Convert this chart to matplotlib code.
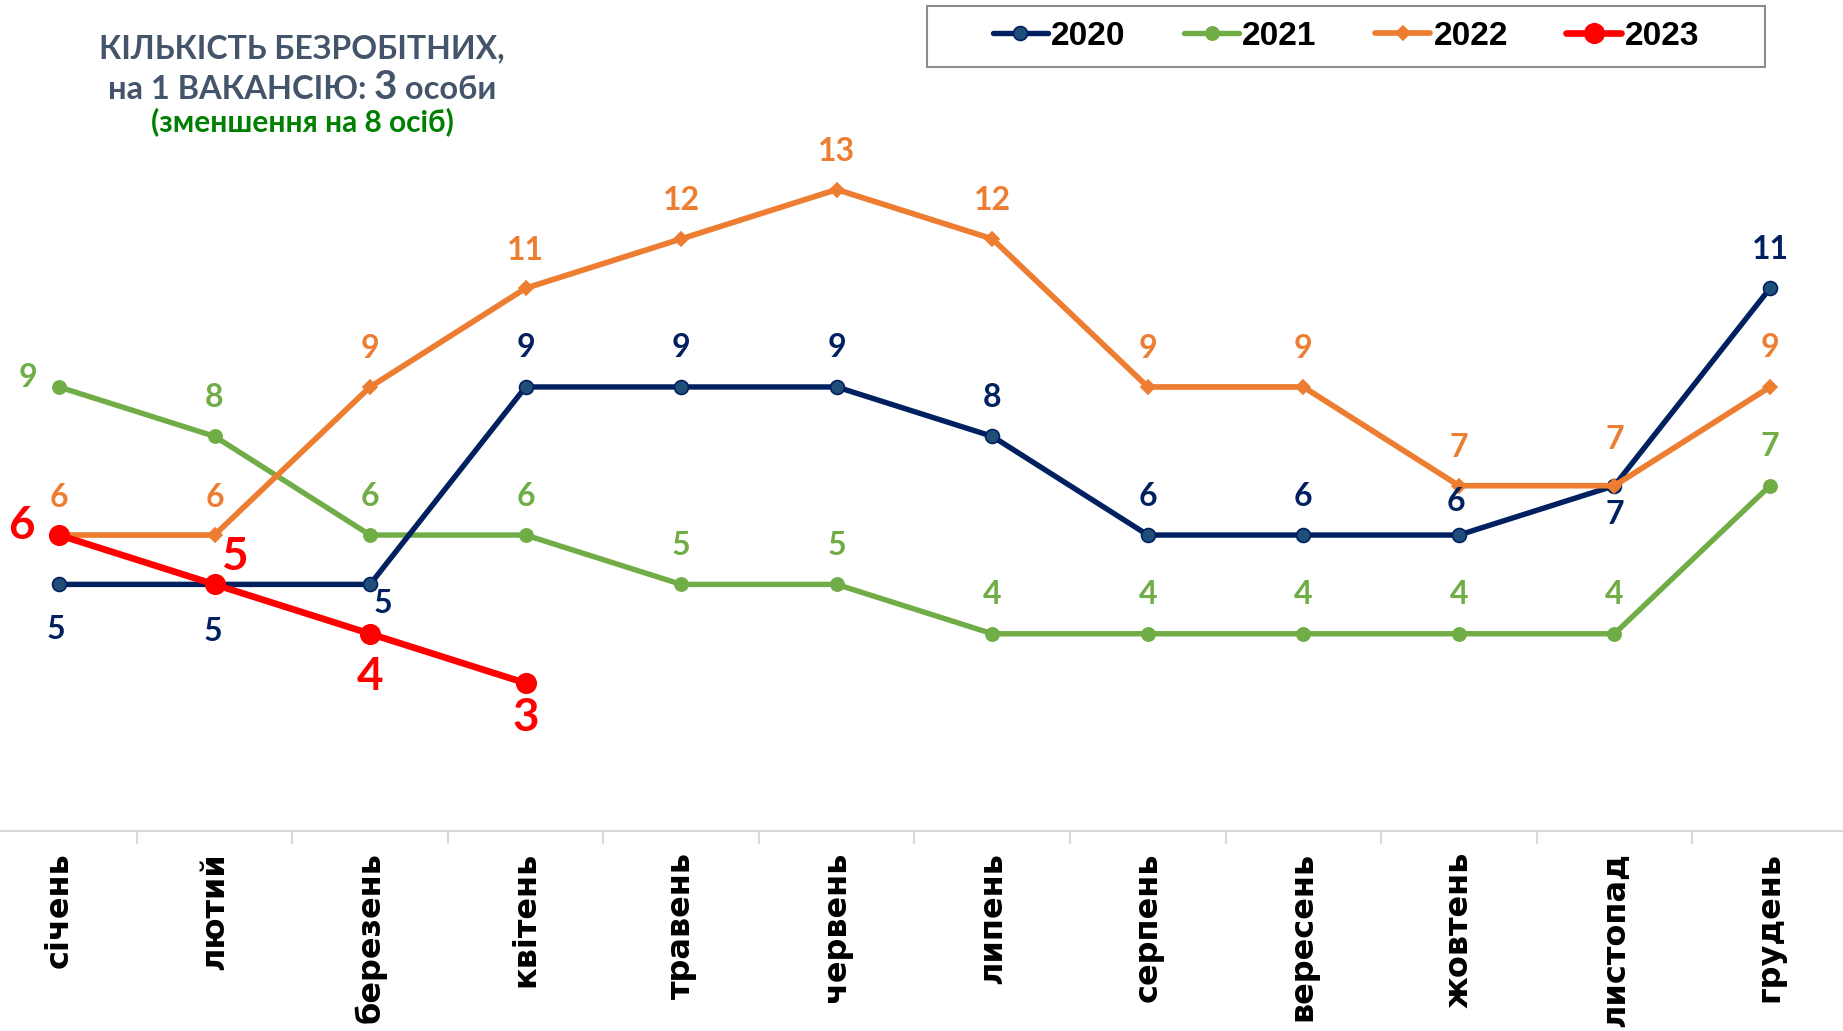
import matplotlib
matplotlib.use("Agg")
import matplotlib.pyplot as plt
from matplotlib.patches import Rectangle
from matplotlib.offsetbox import TextArea, HPacker, AnchoredOffsetbox

# Data
months = ["січень", "лютий", "березень", "квітень", "травень", "червень",
          "липень", "серпень", "вересень", "жовтень", "листопад", "грудень"]
y2020 = [5, 5, 5, 9, 9, 9, 8, 6, 6, 6, 7, 11]
y2021 = [9, 8, 6, 6, 5, 5, 4, 4, 4, 4, 4, 7]
y2022 = [6, 6, 9, 11, 12, 13, 12, 9, 9, 7, 7, 9]
y2023 = [6, 5, 4, 3]

# label offsets in pixels (dx, dy) for each point
off2020 = [(-3, -45), (-2, -47), (13, -19), (0, 39), (0, 39), (0, 39),
           (0, 39), (0, 39), (0, 39), (-3, 34), (0, -29), (0, 39)]
off2021 = [(-31, 9)] + [(0, 39)] * 11
off2022 = [(0, 38)] * 10 + [(0, 46), (0, 39)]
off2023 = [(-38, 9), (21, 27), (0, -43), (0, -35)]

LABEL_FONT = ["Lato", "DejaVu Sans"]
TITLE_COL = "#44546a"

fig = plt.figure(figsize=(18.43, 10.31), dpi=100)
ax = fig.add_axes([-0.0102, 0.1938, 1.0128, 0.766])

x = list(range(len(months)))
series = [
    (y2021, off2021, "2021", "#70ad47", "#70ad47", "#70ad47", "o", 9.5, 3.9, 23, 2),
    (y2020, off2020, "2020", "#002060", "#1f4e79", "#002060", "o", 10, 3.9, 23, 3),
    (y2022, off2022, "2022", "#ed7d31", "#ed7d31", "#ed7d31", "D", 7.5, 4.1, 23, 4),
    (y2023, off2023, "2023", "#ff0000", "#ff0000", "#ff0000", "o", 14, 4.8, 33, 5),
]
handles = {}
for vals, offs, name, col, mfc, mec, mk, ms, lw, fs, z in series:
    xs = x[:len(vals)]
    h, = ax.plot(xs, vals, color=col, lw=lw, marker=mk, ms=ms, mfc=mfc,
                 mec=mec, mew=1.2, zorder=z, label=name, solid_capstyle="round")
    handles[name] = h
    for xi, v, (dx, dy) in zip(xs, vals, offs):
        ax.annotate(str(v), (xi, v), xytext=(dx, dy), textcoords="offset pixels",
                    ha="center", va="center", color=col, fontsize=fs,
                    fontweight="bold", family=LABEL_FONT, zorder=6)

ax.set_xlim(-0.5, 11.5)
ax.set_ylim(0, 16)
ax.set_yticks([])
for s in ["top", "right", "left"]:
    ax.spines[s].set_visible(False)
ax.spines["bottom"].set_color("#d9d9d9")
ax.spines["bottom"].set_linewidth(1.5)

ax.set_xticks(x)
ax.set_xticklabels(months, rotation=90, fontsize=23, fontweight="bold",
                   family=["DejaVu Sans"], va="top")
ax.tick_params(axis="x", which="major", length=0, pad=15)
ax.set_xticks([k + 0.5 for k in range(-1, 12)], minor=True)
ax.tick_params(axis="x", which="minor", length=9.5, width=1.5, color="#d9d9d9")

# Title block
fig.text(0.164, 0.953, "КІЛЬКІСТЬ БЕЗРОБІТНИХ,", ha="center", va="center",
         fontsize=23, fontweight="bold", color=TITLE_COL, family=LABEL_FONT)
tprops = dict(fontsize=23.5, fontweight="bold", color=TITLE_COL, family=LABEL_FONT)
line2 = HPacker(children=[
    TextArea("на 1 ВАКАНСІЮ: ", textprops=tprops),
    TextArea("3", textprops=dict(tprops, fontsize=29)),
    TextArea(" особи", textprops=tprops)], align="baseline", pad=0, sep=0)
fig.add_artist(AnchoredOffsetbox(loc="center", child=line2, frameon=False, pad=0,
                                 borderpad=0, bbox_to_anchor=(0.164, 0.915),
                                 bbox_transform=fig.transFigure))
fig.text(0.164, 0.882, "(зменшення на 8 осіб)", ha="center", va="center",
         fontsize=21.5, fontweight="bold", color="#008000", family=LABEL_FONT)

# Legend with its own frame
fig.add_artist(Rectangle((927 / 1843, 1 - 67 / 1031), 838 / 1843, 61 / 1031,
                         transform=fig.transFigure, fill=False,
                         edgecolor="#8c8c8c", lw=1.5))
fig.legend([handles[n] for n in ["2020", "2021", "2022", "2023"]],
           ["2020", "2021", "2022", "2023"], ncol=4, loc="center",
           bbox_to_anchor=(0.7303, 0.9646), frameon=False,
           handlelength=1.65, handletextpad=0.1, columnspacing=1.75,
           prop={"family": ["Liberation Sans", "DejaVu Sans"], "weight": "bold",
                 "size": 24})

fig.savefig("out.png", dpi=100, facecolor="white")
